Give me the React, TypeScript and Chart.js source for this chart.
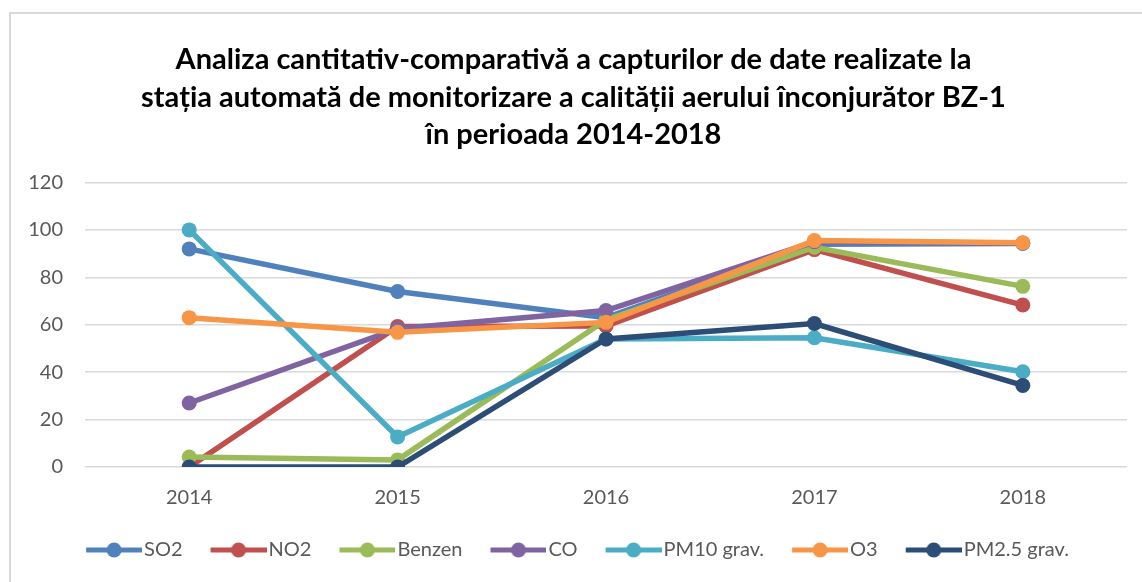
import React, { useEffect, useRef } from "react";
import { Chart, registerables } from "chart.js";

Chart.register(...registerables);

const categories = ["2014", "2015", "2016", "2017", "2018"];
const seriesNames = ["SO2", "NO2", "Benzen", "CO", "PM10 grav.", "O3", "PM2.5 grav."];
const so2 = [92, 74, 63, 94, 94.3];
const no2 = [0, 59.3, 59.5, 91.7, 68.3];
const benzen = [4.2, 3, 62, 92.7, 76.2];
const co = [27, 58.3, 66, 95, 94.5];
const pm10 = [100, 12.7, 54, 54.5, 40.2];
const o3 = [63, 56.8, 61, 95.5, 94.6];
const pm25 = [0, 0, 54, 60.5, 34.4];
const seriesColors = ["#4F81BD", "#C0504D", "#9BBB59", "#8064A2", "#4BACC6", "#F79646", "#2C4D75"];
const titleLines = [
  "Analiza cantitativ-comparativă a capturilor de date realizate la",
  "stația automată de monitorizare a calității aerului înconjurător BZ-1",
  "în perioada 2014-2018",
];
const FONT = "Lato, 'DejaVu Sans', sans-serif";

function makeLegendImage(color: string) {
  const c = document.createElement("canvas");
  c.width = 72;
  c.height = 18;
  const ctx = c.getContext("2d")!;
  ctx.strokeStyle = color;
  ctx.lineWidth = 5;
  ctx.beginPath();
  ctx.moveTo(16, 9);
  ctx.lineTo(72, 9);
  ctx.stroke();
  ctx.fillStyle = color;
  ctx.beginPath();
  ctx.arc(44, 9, 7.5, 0, Math.PI * 2);
  ctx.fill();
  return c;
}

export default function App() {
  const ref = useRef<HTMLCanvasElement>(null);
  useEffect(() => {
    const all = [so2, no2, benzen, co, pm10, o3, pm25];
    const images = seriesColors.map(makeLegendImage);
    const chart = new Chart(ref.current!, {
      type: "line",
      data: {
        labels: categories,
        datasets: all.map((d, i) => ({
          label: seriesNames[i],
          data: d,
          borderColor: seriesColors[i],
          backgroundColor: seriesColors[i],
          pointBackgroundColor: seriesColors[i],
          pointBorderColor: seriesColors[i],
          borderWidth: 5.5,
          pointRadius: 7.5,
          pointBorderWidth: 0,
          tension: 0,
          order: 10 - i,
        })),
      },
      options: {
        animation: false,
        responsive: false,
        layout: { padding: { left: 20, right: 15, top: 0, bottom: 12 } },
        plugins: {
          title: {
            display: true,
            text: titleLines,
            color: "#000000",
            font: { family: FONT, size: 29, weight: "bold", lineHeight: 1.293 },
            padding: { top: 41, bottom: 29 },
          },
          legend: {
            position: "bottom",
            labels: {
              usePointStyle: true,
              pointStyleWidth: 56,
              padding: 20,
              color: "#595959",
              font: { family: FONT, size: 20 },
              generateLabels: (ch: any) =>
                ch.data.datasets.map((ds: any, i: number) => ({
                  text: ds.label,
                  fillStyle: seriesColors[i],
                  strokeStyle: seriesColors[i],
                  lineWidth: 0,
                  pointStyle: images[i],
                  fontColor: "#595959",
                  hidden: false,
                  datasetIndex: i,
                })),
            },
          },
          tooltip: { enabled: false },
        },
        scales: {
          x: {
            offset: true,
            grid: { display: false, drawTicks: false },
            border: { display: false },
            ticks: { color: "#595959", font: { family: FONT, size: 20 }, padding: 19 },
            afterFit: (s: any) => {
              s.height = 53;
            },
          },
          y: {
            min: 0,
            max: 120,
            ticks: { stepSize: 20, color: "#595959", font: { family: FONT, size: 20 }, padding: 22 },
            grid: { color: "#D9D9D9", lineWidth: 1.5, drawTicks: false },
            border: { display: false },
            afterFit: (s: any) => {
              s.width = 65;
            },
          },
        },
      },
    });
    return () => chart.destroy();
  }, []);
  return (
    <div style={{ position: "absolute", left: 0, top: 0, width: 1142, height: 582, overflow: "hidden", background: "#fff" }}>
      <div
        style={{
          position: "absolute",
          left: 9,
          top: 12,
          width: 1200,
          height: 700,
          borderLeft: "2px solid #D9D9D9",
          borderTop: "2px solid #D9D9D9",
        }}
      />
      <canvas ref={ref} width={1142} height={582} style={{ position: "absolute", left: 0, top: 0 }} />
    </div>
  );
}
